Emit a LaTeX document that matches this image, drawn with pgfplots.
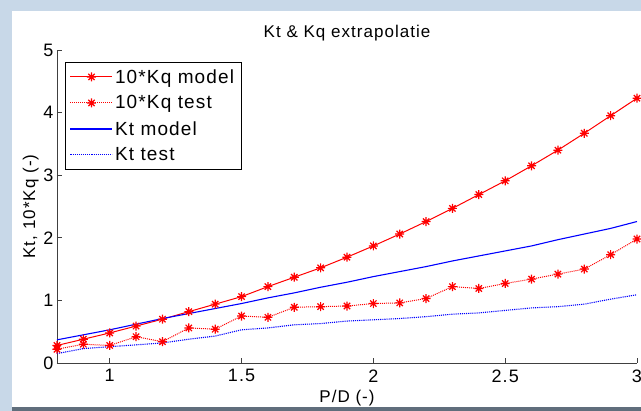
\documentclass[border=0pt]{standalone}
\usepackage{fontspec}
\setmainfont{Liberation Sans}[LetterSpace=6]
\usepackage{pgfplots}
\pgfplotsset{compat=1.18}
\definecolor{winbg}{RGB}{200,216,232}
\definecolor{winbar}{RGB}{96,110,124}
% MATLAB-style asterisk: plus and cross overlaid
\pgfdeclareplotmark{matstar}{%
  \pgfpathmoveto{\pgfqpoint{-\pgfplotmarksize}{0pt}}\pgfpathlineto{\pgfqpoint{\pgfplotmarksize}{0pt}}%
  \pgfpathmoveto{\pgfqpoint{0pt}{-\pgfplotmarksize}}\pgfpathlineto{\pgfqpoint{0pt}{\pgfplotmarksize}}%
  \pgfpathmoveto{\pgfqpoint{-0.7\pgfplotmarksize}{-0.7\pgfplotmarksize}}\pgfpathlineto{\pgfqpoint{0.7\pgfplotmarksize}{0.7\pgfplotmarksize}}%
  \pgfpathmoveto{\pgfqpoint{-0.7\pgfplotmarksize}{0.7\pgfplotmarksize}}\pgfpathlineto{\pgfqpoint{0.7\pgfplotmarksize}{-0.7\pgfplotmarksize}}%
  \pgfusepathqstroke}

\begin{document}
\begin{tikzpicture}[x=1pt,y=1pt]
\path[use as bounding box] (0,0) rectangle (641,411);
\fill[winbg] (0,0) rectangle (641,411);
\fill[white] (12,4) rectangle (641,400);

\begin{axis}[
  at={(57pt,48pt)}, anchor=south west,
  scale only axis,
  width=580pt, height=313pt,
  xmin=0.8, xmax=3, ymin=0, ymax=5,
  axis x line*=bottom, axis y line*=left,
  axis line style={-, black!75, line width=0.8pt},
  xtick={1,1.5,2,2.5,3}, ytick={0,1,2,3,4,5},
  tick align=inside, major tick length=5pt,
  tick style={black!75, line width=0.6pt},
  /pgf/number format/assume math mode=true,
  ticklabel style={font=\fontsize{18}{20}\selectfont},
  xticklabel style={yshift=-3pt},
  xlabel={P/D (-)}, ylabel={Kt, 10*Kq (-)},
  label style={font=\fontsize{17}{19}\selectfont},
  xlabel style={yshift=-1pt},
  ylabel style={yshift=-2pt},
  title={Kt \& Kq extrapolatie},
  title style={font=\fontsize{17}{19}\selectfont, yshift=-1pt},
  legend style={at={(0.013,0.962)}, anchor=north west, draw=black,
    line width=0.8pt, font=\fontsize{19}{21}\selectfont,
    row sep=7pt, inner sep=5pt},
  legend cell align=left,
  legend image code/.code={\draw[#1] (0pt,0pt) -- (21pt,0pt) plot coordinates {(21pt,0pt)} -- (42pt,0pt);},
]
\addplot[red, line width=1pt, mark=matstar, mark size=4.5pt, mark options={solid, line width=1.2pt}] coordinates {
(0.8,0.28) (0.9,0.38) (1.0,0.48) (1.1,0.59) (1.2,0.70) (1.3,0.82) (1.4,0.94)
(1.5,1.06) (1.6,1.22) (1.7,1.37) (1.8,1.52) (1.9,1.69) (2.0,1.87) (2.1,2.06)
(2.2,2.26) (2.3,2.47) (2.4,2.69) (2.5,2.91) (2.6,3.15) (2.7,3.40) (2.8,3.67)
(2.9,3.95) (3.0,4.23)};
\addlegendentry{10*Kq model}
\addplot[red, line width=1pt, densely dotted, mark=matstar, mark size=4.5pt, mark options={solid, line width=1.2pt}] coordinates {
(0.8,0.22) (0.9,0.30) (1.0,0.28) (1.1,0.42) (1.2,0.34) (1.3,0.56) (1.4,0.54)
(1.5,0.75) (1.6,0.73) (1.7,0.89) (1.8,0.90) (1.9,0.91) (2.0,0.95) (2.1,0.96)
(2.2,1.03) (2.3,1.22) (2.4,1.19) (2.5,1.27) (2.6,1.34) (2.7,1.42) (2.8,1.50)
(2.9,1.73) (3.0,1.98)};
\addlegendentry{10*Kq test}
\addplot[blue, line width=1.1pt] coordinates {
(0.8,0.37) (0.9,0.45) (1.0,0.53) (1.1,0.62) (1.2,0.71) (1.3,0.79) (1.4,0.87)
(1.5,0.95) (1.6,1.04) (1.7,1.12) (1.8,1.21) (1.9,1.29) (2.0,1.38) (2.1,1.46)
(2.2,1.54) (2.3,1.63) (2.4,1.71) (2.5,1.79) (2.6,1.87) (2.7,1.97) (2.8,2.06)
(2.9,2.15) (3.0,2.26)};
\addlegendentry{Kt model}
\addplot[blue, line width=1.1pt, densely dotted] coordinates {
(0.8,0.15) (0.9,0.23) (1.0,0.26) (1.1,0.29) (1.2,0.32) (1.3,0.38) (1.4,0.43)
(1.5,0.53) (1.6,0.56) (1.7,0.61) (1.8,0.63) (1.9,0.67) (2.0,0.69) (2.1,0.71)
(2.2,0.74) (2.3,0.78) (2.4,0.80) (2.5,0.84) (2.6,0.88) (2.7,0.90) (2.8,0.94)
(2.9,1.02) (3.0,1.09)};
\addlegendentry{Kt test}
\end{axis}
\fill[winbar] (12,0) rectangle (641,4);
\end{tikzpicture}
\end{document}
